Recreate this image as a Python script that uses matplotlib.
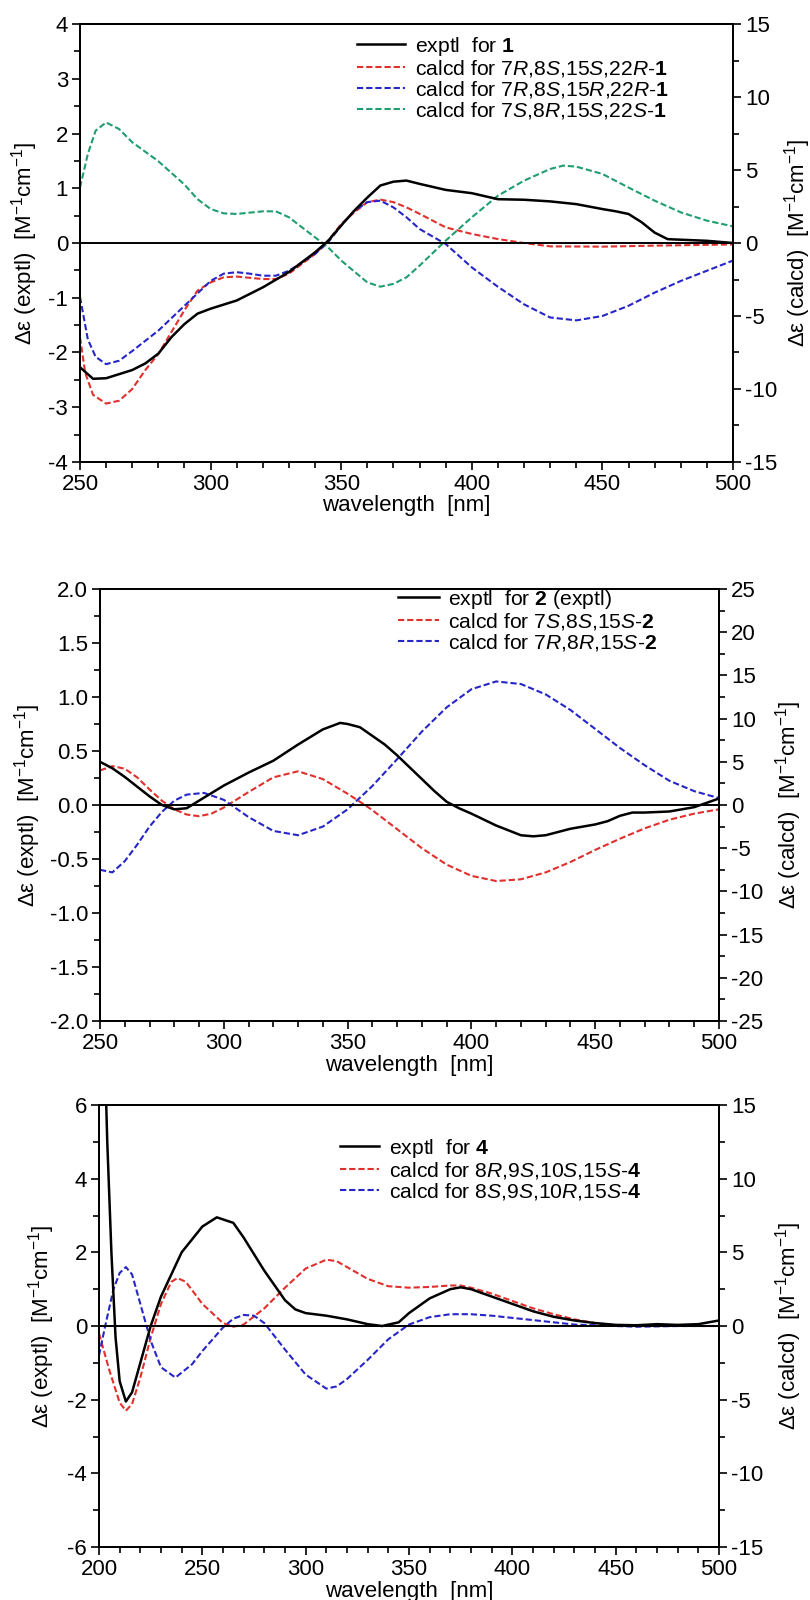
import numpy as np
import matplotlib
matplotlib.use("Agg")
import matplotlib.pyplot as plt
from matplotlib.ticker import MultipleLocator

plt.rcParams['font.family'] = ['Liberation Sans', 'DejaVu Sans']
plt.rcParams['mathtext.fontset'] = 'custom'
plt.rcParams['mathtext.rm'] = 'Liberation Sans'
plt.rcParams['mathtext.it'] = 'Liberation Sans:italic'
plt.rcParams['mathtext.bf'] = 'Liberation Sans:bold'
plt.rcParams['axes.unicode_minus'] = False

# ---------------- Panel 1 data ----------------
p1_exp_x = [250, 255, 260, 270, 275, 280, 285, 290, 295, 300, 310, 320, 330, 340, 345, 350, 355, 360, 365,
            370, 375, 380, 390, 400, 410, 420, 430, 440, 450, 455, 460, 465, 470, 475, 480, 490, 500]
p1_exp_y = [-2.27, -2.48, -2.47, -2.32, -2.2, -2.02, -1.72, -1.48, -1.29, -1.2, -1.05, -0.81, -0.53, -0.17,
            0.04, 0.32, 0.59, 0.83, 1.05, 1.12, 1.14, 1.08, 0.97, 0.91, 0.80, 0.79, 0.76, 0.71, 0.62, 0.58,
            0.53, 0.38, 0.19, 0.07, 0.06, 0.04, 0.0]
p1_red_x = [250, 252, 255, 260, 265, 270, 275, 280, 285, 290, 295, 300, 305, 310, 320, 325, 330, 340, 345,
            350, 355, 360, 365, 370, 375, 380, 390, 400, 410, 420, 430, 450, 470, 500]
p1_red_y = [-6.46, -8.9, -10.4, -11.0, -10.8, -10.0, -8.7, -7.6, -6.1, -4.6, -3.26, -2.7, -2.35, -2.3, -2.47,
            -2.47, -2.1, -0.75, 0.16, 1.3, 2.1, 2.8, 2.97, 2.8, 2.44, 2.0, 1.07, 0.62, 0.27, 0.0, -0.23,
            -0.25, -0.18, -0.1]
p1_blue_x = [250, 253, 256, 260, 265, 270, 280, 290, 300, 305, 310, 315, 320, 325, 330, 340, 345, 350, 355,
             360, 365, 370, 375, 380, 390, 400, 410, 420, 430, 440, 450, 460, 470, 480, 490, 500]
p1_blue_y = [-3.7, -6.6, -7.8, -8.3, -8.06, -7.4, -6.0, -4.3, -2.6, -2.1, -2.0, -2.1, -2.24, -2.24, -1.9,
             -0.75, 0.05, 1.19, 2.2, 2.8, 2.9, 2.44, 1.76, 0.96, -0.07, -1.67, -3.0, -4.2, -5.1, -5.3, -5.0,
             -4.3, -3.4, -2.6, -1.9, -1.2]
p1_green_x = [250, 253, 256, 260, 265, 270, 280, 290, 295, 300, 305, 310, 320, 325, 330, 335, 340, 345, 350,
              360, 365, 370, 375, 380, 390, 400, 410, 420, 430, 435, 440, 450, 460, 470, 480, 490, 500]
p1_green_y = [3.8, 6.1, 7.7, 8.26, 7.8, 6.9, 5.6, 4.0, 3.0, 2.33, 2.03, 1.99, 2.17, 2.17, 1.76, 1.07, 0.39,
              -0.3, -1.2, -2.7, -2.99, -2.8, -2.35, -1.55, 0.16, 1.76, 3.24, 4.27, 5.07, 5.3, 5.23, 4.73,
              3.8, 2.9, 2.1, 1.53, 1.14]
p1_labels = ["exptl  for $\\bf{1}$",
             "calcd for 7$\\it{R}$,8$\\it{S}$,15$\\it{S}$,22$\\it{R}$-$\\bf{1}$",
             "calcd for 7$\\it{R}$,8$\\it{S}$,15$\\it{R}$,22$\\it{R}$-$\\bf{1}$",
             "calcd for 7$\\it{S}$,8$\\it{R}$,15$\\it{S}$,22$\\it{S}$-$\\bf{1}$"]

# ---------------- Panel 2 data ----------------
p2_exp_x = [250, 255, 260, 265, 270, 275, 280, 285, 290, 295, 300, 310, 320, 330, 340, 347, 350, 355, 360,
            365, 370, 375, 380, 385, 390, 395, 400, 410, 420, 425, 430, 440, 450, 455, 460, 465, 470, 480,
            490, 500]
p2_exp_y = [0.40, 0.34, 0.26, 0.17, 0.08, 0.0, -0.04, -0.03, 0.04, 0.11, 0.18, 0.30, 0.41, 0.56, 0.70, 0.76,
            0.75, 0.72, 0.64, 0.56, 0.46, 0.35, 0.24, 0.13, 0.03, -0.03, -0.08, -0.19, -0.28, -0.29, -0.28,
            -0.22, -0.18, -0.15, -0.10, -0.07, -0.07, -0.06, -0.02, 0.06]
p2_red_x = [250, 255, 260, 265, 270, 275, 280, 285, 290, 295, 300, 310, 320, 330, 340, 350, 357, 360, 370,
            380, 390, 400, 410, 420, 430, 440, 450, 460, 470, 480, 490, 500]
p2_red_y = [4.0, 4.5, 4.2, 3.2, 1.8, 0.5, -0.5, -1.1, -1.3, -1.0, -0.3, 1.5, 3.2, 3.9, 3.0, 1.3, 0.0, -0.6,
            -2.8, -5.0, -6.9, -8.2, -8.8, -8.6, -7.8, -6.6, -5.2, -3.9, -2.7, -1.7, -1.0, -0.5]
p2_blue_x = [250, 255, 260, 265, 270, 275, 280, 285, 292, 300, 310, 320, 330, 340, 350, 360, 370, 380, 390,
             400, 410, 420, 430, 440, 450, 460, 470, 480, 490, 500]
p2_blue_y = [-7.5, -7.8, -6.5, -4.6, -2.5, -0.8, 0.5, 1.2, 1.4, 0.6, -1.4, -3.0, -3.5, -2.5, -0.5, 2.2, 5.3,
             8.5, 11.3, 13.4, 14.3, 14.0, 12.8, 11.0, 8.8, 6.6, 4.6, 2.8, 1.6, 0.8]
p2_labels = ["exptl  for $\\bf{2}$ (exptl)",
             "calcd for 7$\\it{S}$,8$\\it{S}$,15$\\it{S}$-$\\bf{2}$",
             "calcd for 7$\\it{R}$,8$\\it{R}$,15$\\it{S}$-$\\bf{2}$"]

# ---------------- Panel 3 data ----------------
p3_exp_x = [200, 202, 204, 206, 208, 210, 213, 216, 220, 225, 230, 240, 250, 257, 265, 270, 280, 290, 295,
            300, 310, 320, 330, 337, 345, 350, 360, 370, 375, 380, 390, 400, 410, 420, 430, 440, 450, 460,
            470, 480, 490, 500]
p3_exp_y = [14.0, 9.0, 5.0, 2.0, -0.3, -1.5, -2.05, -1.8, -1.0, 0.0, 0.8, 2.0, 2.7, 2.95, 2.8, 2.4, 1.5,
            0.7, 0.45, 0.35, 0.28, 0.18, 0.05, 0.0, 0.1, 0.35, 0.75, 1.0, 1.05, 1.0, 0.8, 0.6, 0.4, 0.25,
            0.15, 0.08, 0.03, 0.02, 0.05, 0.03, 0.05, 0.15]
p3_red_x = [200, 205, 210, 213, 216, 220, 225, 230, 235, 238, 242, 250, 260, 265, 270, 280, 290, 300, 310,
            315, 320, 330, 340, 350, 360, 370, 375, 380, 390, 400, 410, 420, 430, 440, 450, 460, 480, 500]
p3_red_y = [-0.5, -3.0, -5.2, -5.75, -5.3, -3.5, -0.8, 1.5, 3.0, 3.25, 3.0, 1.5, 0.2, -0.05, 0.1, 1.2, 2.6,
            3.9, 4.5, 4.4, 4.0, 3.2, 2.7, 2.6, 2.65, 2.75, 2.75, 2.6, 2.2, 1.7, 1.2, 0.8, 0.45, 0.2, 0.05,
            0.0, 0.0, 0.0]
p3_blue_x = [200, 203, 207, 210, 213, 216, 220, 225, 230, 237, 245, 250, 260, 265, 270, 275, 280, 290, 300,
             310, 315, 320, 330, 340, 350, 360, 370, 380, 390, 400, 410, 420, 430, 440, 450, 460, 480, 500]
p3_blue_y = [-2.0, 0.0, 2.5, 3.6, 4.0, 3.5, 1.5, -1.0, -2.8, -3.5, -2.6, -1.7, -0.1, 0.5, 0.75, 0.7, 0.2,
             -1.6, -3.3, -4.25, -4.1, -3.6, -2.3, -0.9, 0.1, 0.6, 0.8, 0.8, 0.7, 0.55, 0.4, 0.25, 0.1, 0.05,
             0.0, -0.05, 0.0, 0.0]
p3_labels = ["exptl  for $\\bf{4}$",
             "calcd for 8$\\it{R}$,9$\\it{S}$,10$\\it{S}$,15$\\it{S}$-$\\bf{4}$",
             "calcd for 8$\\it{S}$,9$\\it{S}$,10$\\it{R}$,15$\\it{S}$-$\\bf{4}$"]

RED = '#e0302c'
BLUE = '#2626c8'
GREEN = '#1f9e6e'
DASH = (0, (3, 1.4))
FS = 16
LFS = 15.2

fig = plt.figure(figsize=(8.1, 16), dpi=100)


def fp(l, r, t, b):
    W, H = 810, 1600
    return [l / W, 1 - b / H, (r - l) / W, (b - t) / H]


def setup(ax, ax2, xlim, xmaj, xmin, ylim, ymaj, ymin, y2lim, y2maj, y2min, yfmt, lx, rx):
    ax.set_xlim(*xlim)
    ax.set_ylim(*ylim)
    ax2.set_ylim(*y2lim)
    ax.xaxis.set_major_locator(MultipleLocator(xmaj))
    ax.xaxis.set_minor_locator(MultipleLocator(xmin))
    ax.yaxis.set_major_locator(MultipleLocator(ymaj))
    ax.yaxis.set_minor_locator(MultipleLocator(ymin))
    ax2.yaxis.set_major_locator(MultipleLocator(y2maj))
    ax2.yaxis.set_minor_locator(MultipleLocator(y2min))
    if yfmt:
        ax.yaxis.set_major_formatter(plt.FormatStrFormatter(yfmt))
    for a in (ax, ax2):
        a.tick_params(which='major', direction='out', length=6, width=1.2, labelsize=FS, pad=2.5)
        a.tick_params(which='minor', direction='out', length=4, width=1.2)
        for s in a.spines.values():
            s.set_linewidth(1.4)
    ax.axhline(0, color='black', lw=1.4, zorder=1)
    ax.set_xlabel('wavelength  [nm]', fontsize=FS, labelpad=0.5)
    ax.set_ylabel('Δε (exptl)  [M$^{-1}$cm$^{-1}$]', fontsize=FS)
    ax2.set_ylabel('Δε (calcd)  [M$^{-1}$cm$^{-1}$]', fontsize=FS)
    ax.yaxis.set_label_coords(lx, 0.5)
    ax2.yaxis.set_label_coords(rx, 0.5)


def legend(ax, handles, labels, anchor, hl):
    ax.legend(handles, labels, loc='upper left', bbox_to_anchor=anchor, frameon=False, fontsize=LFS,
              handlelength=hl, handletextpad=0.45, labelspacing=0.0, borderpad=0, borderaxespad=0)


# Panel 1
ax1 = fig.add_axes(fp(80, 733, 24, 462))
ax1b = ax1.twinx()
setup(ax1, ax1b, (250, 500), 50, 10, (-4, 4), 1, 0.5, (-15, 15), 5, 2.5, None, -0.061, 1.075)
h0, = ax1.plot(p1_exp_x, p1_exp_y, color='black', lw=1.8, zorder=5)
h1, = ax1b.plot(p1_red_x, p1_red_y, color=RED, lw=1.5, ls=DASH)
h2, = ax1b.plot(p1_blue_x, p1_blue_y, color=BLUE, lw=1.5, ls=DASH)
h3, = ax1b.plot(p1_green_x, p1_green_y, color=GREEN, lw=1.5, ls=DASH)
ax1.set_zorder(ax1b.get_zorder() + 1)
ax1.patch.set_visible(False)
legend(ax1, [h0, h1, h2, h3], p1_labels, (0.424, 0.976), 2.3)

# Panel 2
ax2 = fig.add_axes(fp(100, 719, 589, 1021))
ax2b = ax2.twinx()
setup(ax2, ax2b, (250, 500), 50, 10, (-2, 2), 0.5, 0.25, (-25, 25), 5, 2.5, '%.1f', -0.092, 1.087)
g0, = ax2.plot(p2_exp_x, p2_exp_y, color='black', lw=1.8, zorder=5)
g1, = ax2b.plot(p2_red_x, p2_red_y, color=RED, lw=1.5, ls=DASH)
g2, = ax2b.plot(p2_blue_x, p2_blue_y, color=BLUE, lw=1.5, ls=DASH)
ax2.set_zorder(ax2b.get_zorder() + 1)
ax2.patch.set_visible(False)
legend(ax2, [g0, g1, g2], p2_labels, (0.481, 1.003), 1.95)

# Panel 3
ax3 = fig.add_axes(fp(99, 719, 1105, 1547))
ax3b = ax3.twinx()
setup(ax3, ax3b, (200, 500), 50, 10, (-6, 6), 2, 1, (-15, 15), 5, 2.5, None, -0.068, 1.087)
k0, = ax3.plot(p3_exp_x, p3_exp_y, color='black', lw=1.8, zorder=5)
k1, = ax3b.plot(p3_red_x, p3_red_y, color=RED, lw=1.5, ls=DASH)
k2, = ax3b.plot(p3_blue_x, p3_blue_y, color=BLUE, lw=1.5, ls=DASH)
ax3.set_zorder(ax3b.get_zorder() + 1)
ax3.patch.set_visible(False)
legend(ax3, [k0, k1, k2], p3_labels, (0.389, 0.928), 1.85)

fig.savefig('out.png', dpi=100)
